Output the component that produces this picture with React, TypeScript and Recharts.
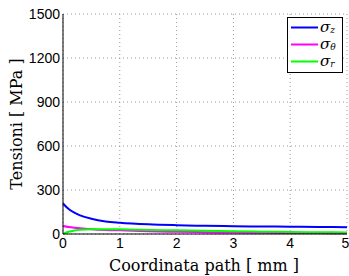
import React from 'react';
import {
  LineChart,
  Line,
  XAxis,
  YAxis,
  CartesianGrid,
  Legend,
  Label,
} from 'recharts';

// path coordinate [mm]
const pathMm = [0, 0.1, 0.2, 0.3, 0.5, 0.75, 1, 1.5, 2, 2.5, 3, 3.5, 4, 4.5, 5];
// stresses [MPa]
const sigmaZ = [208, 170, 145, 127, 104, 86, 77, 66, 60, 56, 53, 51, 50, 48, 46];
const sigmaTheta = [55, 48, 43, 39, 33, 28, 25, 19, 15, 12, 10, 8, 7, 6, 5];
const sigmaR = [0, 15, 24, 29, 33, 33, 32, 28, 25, 22, 19, 16, 14, 12, 11];

const xTicks = [0, 1, 2, 3, 4, 5];
const yTicks = [0, 300, 600, 900, 1200, 1500];

const SERIES = [
  { key: 'sz', sub: 'z', color: '#0000ff' },
  { key: 'st', sub: 'θ', color: '#ff00ff' },
  { key: 'sr', sub: 'r', color: '#00ff00' },
];

const data = pathMm.map((x, i) => ({
  x,
  sz: sigmaZ[i],
  st: sigmaTheta[i],
  sr: sigmaR[i],
}));

const LegendBox = () => (
  <svg width={54} height={54} style={{ display: 'block', background: '#fff', border: '1px solid #000' }}>
    {SERIES.map((s, i) => {
      const y = 9.5 + i * 17;
      return (
        <g key={s.key}>
          <line x1={3} x2={30} y1={y} y2={y} stroke={s.color} strokeWidth={2} />
          <text x={32} y={y + 4} fontFamily="DejaVu Serif" fontStyle="italic" fontSize={15} fill="#000">
            σ
            <tspan fontSize={9} dy={1}>{s.sub}</tspan>
          </text>
        </g>
      );
    })}
  </svg>
);

export default function App() {
  return (
    <div style={{ position: 'absolute', left: 0, top: 0, background: '#fff' }}>
      <LineChart width={349} height={276} data={data} margin={{ top: 14, right: 2, left: 0, bottom: 0 }}>
        <CartesianGrid stroke="#999" strokeDasharray="1 3" />
        <XAxis
          type="number"
          dataKey="x"
          domain={[0, 5]}
          ticks={xTicks}
          height={42}
          tickSize={0}
          tickMargin={4}
          stroke="#000"
          tick={{ fontSize: 14, fill: '#000', fontFamily: 'Liberation Sans' }}
        >
          <Label
            content={({ viewBox }: any) => (
              <text
                x={viewBox.x + viewBox.width / 2 - 1}
                y={viewBox.y + 37}
                textAnchor="middle"
                fontFamily="DejaVu Serif"
                fontSize={16}
                fill="#000"
              >
                Coordinata path [ mm ]
              </text>
            )}
          />
        </XAxis>
        <YAxis
          type="number"
          domain={[0, 1500]}
          ticks={yTicks}
          width={63}
          tickSize={0}
          tickMargin={3}
          stroke="#000"
          tick={{ fontSize: 14, fill: '#000', fontFamily: 'Liberation Sans' }}
        >
          <Label
            content={({ viewBox }: any) => {
              const cx = 16;
              const cy = viewBox.y + viewBox.height / 2;
              return (
                <text
                  x={cx}
                  y={cy}
                  transform={`rotate(-90 ${cx} ${cy})`}
                  textAnchor="middle"
                  dominantBaseline="central"
                  fontFamily="DejaVu Serif"
                  fontSize={16}
                  fill="#000"
                >
                  Tensioni [ MPa ]
                </text>
              );
            }}
          />
        </YAxis>
        {SERIES.map((s) => (
          <Line
            key={s.key}
            type="monotone"
            dataKey={s.key}
            stroke={s.color}
            strokeWidth={2}
            dot={false}
            isAnimationActive={false}
          />
        ))}
        <Legend
          layout="horizontal"
          verticalAlign="middle"
          align="center"
          content={() => <LegendBox />}
          wrapperStyle={{ left: 287, top: 17, width: 56, height: 56 }}
        />
      </LineChart>
    </div>
  );
}
